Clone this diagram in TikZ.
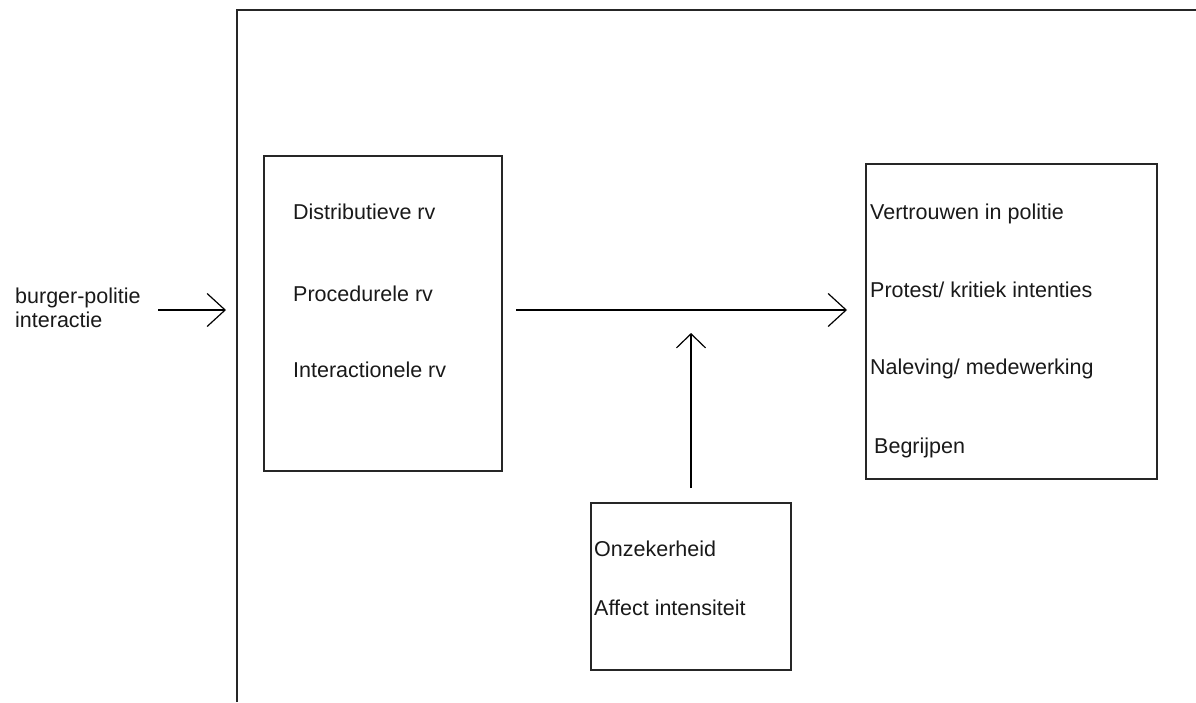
\documentclass[tikz,border=0pt]{standalone}
\usepackage{fontspec}
\setmainfont{Liberation Sans}
\usetikzlibrary{arrows.meta}
\begin{document}
\begin{tikzpicture}[x=1pt,y=-1pt,
  boxstyle/.style={draw=black!85,line width=1.3pt,inner sep=0pt,outer sep=0pt,anchor=north west},
  lbl/.style={anchor=base west,inner sep=0pt,font=\fontsize{21.5}{25}\selectfont,text=black!90},
  bigarrow/.style={line width=1.2pt,-{Straight Barb[length=18pt,width=33pt]}},
  smallarrow/.style={line width=1.2pt,-{Straight Barb[length=14pt,width=29pt]}}]
\useasboundingbox (0,0) rectangle (1196,702);
% outer frame (open to the right and bottom)
\draw[line width=1.6pt,draw=black!85] (237,702) -- (237,10) -- (1196,10);
% boxes
\node[boxstyle,minimum width=238pt,minimum height=315pt] (lbox) at (264,156) {};
\node[boxstyle,minimum width=291pt,minimum height=315pt] (rbox) at (866,164) {};
\node[boxstyle,minimum width=200pt,minimum height=167pt] (bbox) at (591,503) {};
% texts
\node[lbl,align=left,text width=150pt] (burger) at (15,303) {burger-politie\\[-1pt]interactie};
\node[lbl] (d1) at (293,219) {Distributieve rv};
\node[lbl] (d2) at (293,301) {Procedurele rv};
\node[lbl] (d3) at (293,377) {Interactionele rv};
\node[lbl] (r1) at (870,219) {Vertrouwen in politie};
\node[lbl] (r2) at (870,297) {Protest/ kritiek intenties};
\node[lbl] (r3) at (870,374) {Naleving/ medewerking};
\node[lbl] (r4) at (874,453) {Begrijpen};
\node[lbl] (b1) at (594,556) {Onzekerheid};
\node[lbl] (b2) at (594,615) {Affect intensiteit};
% connector end points
\coordinate (a1s) at (158,310);
\coordinate (a1e) at (226,310);
\coordinate (a2s) at (lbox.east |- 0,310);
\coordinate (a2e) at (rbox.west |- 0,310);
\coordinate (a3s) at (691,0 |- bbox.north);
\coordinate (a3e) at (691,333);
\draw[bigarrow] (a1s) -- (a1e);
\draw[bigarrow] ([xshift=14pt]a2s) -- ([xshift=-19pt]a2e);
\draw[smallarrow] ([yshift=15pt]a3s) -- (a3e);
\end{tikzpicture}
\end{document}
